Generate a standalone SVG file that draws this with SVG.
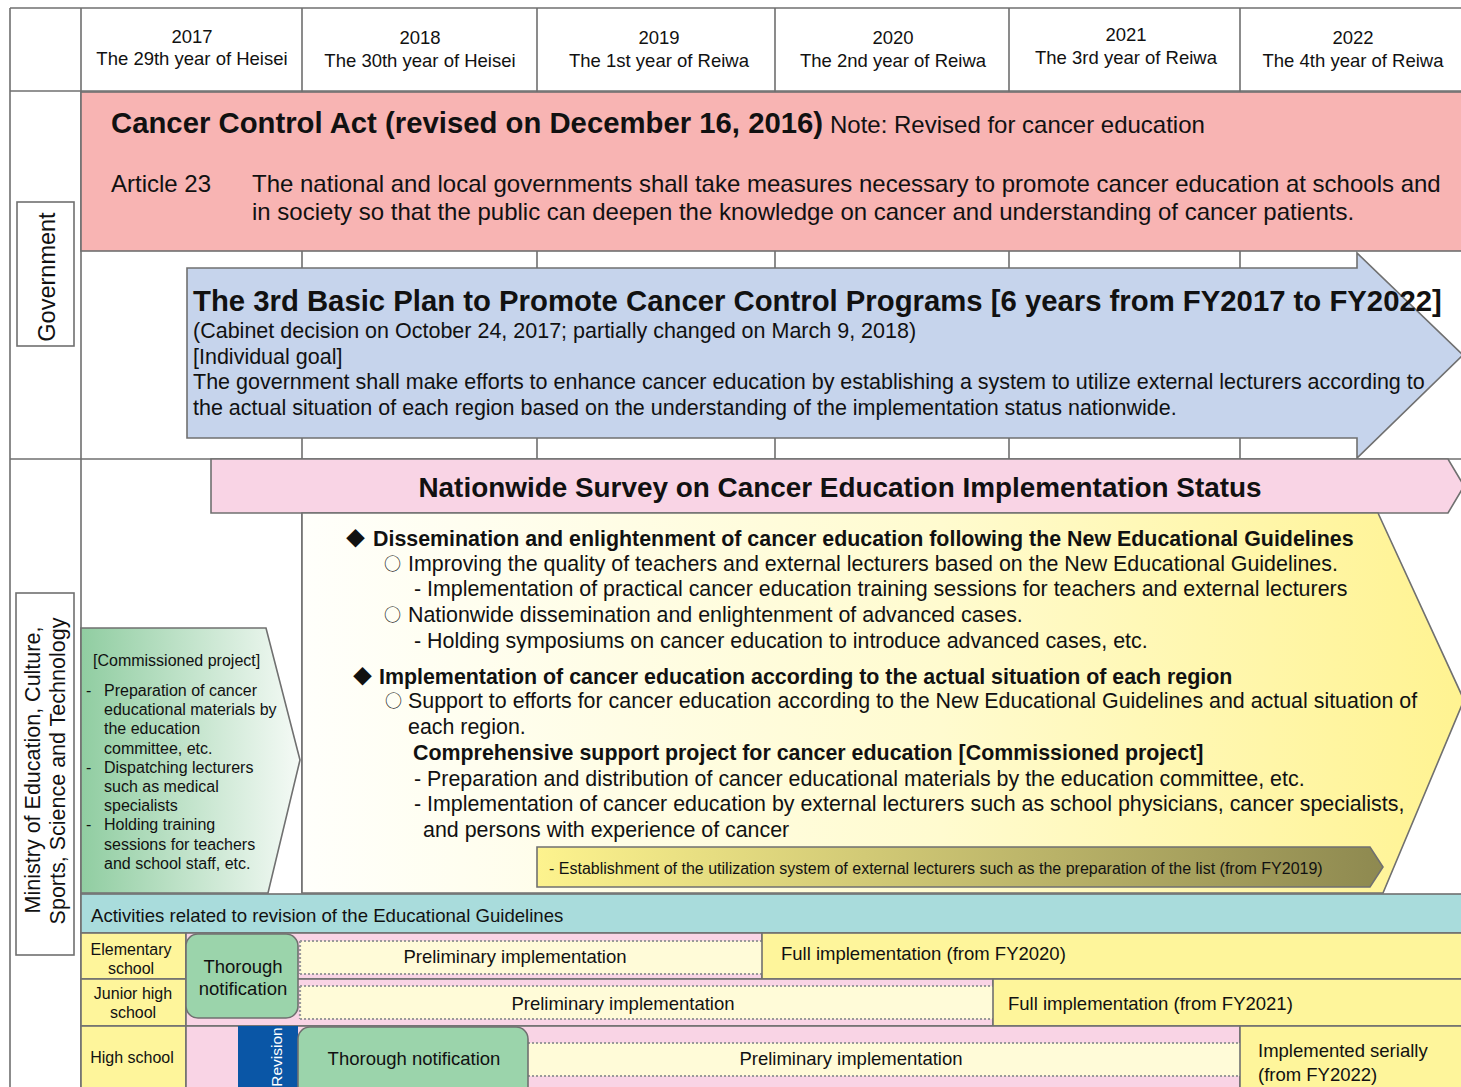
<svg xmlns="http://www.w3.org/2000/svg" width="1461" height="1087" viewBox="0 0 1461 1087">
<defs>
<style>
text{font-family:"Liberation Sans",Arial,sans-serif;fill:#111;}
.b{font-weight:bold;}
.grid{stroke:#6f6f6f;stroke-width:1.6;fill:none;}
.edge{stroke:#707070;stroke-width:1.6;}
.hd{font-size:18.5px;text-anchor:middle;}
.yl{font-size:21.4px;}
.sym{font-family:"Noto Sans CJK JP","DejaVu Sans",sans-serif;font-size:19px;}
.cir{font-family:"Noto Sans CJK JP","DejaVu Sans",sans-serif;font-size:17px;}
.gl{font-size:16px;}
.row{font-size:18.5px;}
.lbl{font-size:16px;text-anchor:middle;}
.dot{stroke:#9a9a9a;stroke-width:2.2;stroke-dasharray:2 2;fill:none;}
.dotf{fill:#fffbd8;}
</style>
<linearGradient id="gYel" x1="0" y1="0" x2="1" y2="0">
<stop offset="0" stop-color="#fffffb"/>
<stop offset="0.55" stop-color="#fffbcf"/>
<stop offset="1" stop-color="#fff391"/>
</linearGradient>
<linearGradient id="gGrn" x1="0" y1="0" x2="1" y2="0">
<stop offset="0" stop-color="#90cda1"/>
<stop offset="1" stop-color="#f5faf6"/>
</linearGradient>
<linearGradient id="gOl" x1="0" y1="0" x2="1" y2="0">
<stop offset="0" stop-color="#fdf38e"/>
<stop offset="1" stop-color="#8e8950"/>
</linearGradient>
</defs>
<rect x="0" y="0" width="1461" height="1087" fill="#fff"/>

<g id="grid" class="grid">
<line x1="10" y1="8" x2="1461" y2="8"/>
<line x1="10" y1="91" x2="1461" y2="91"/>
<line x1="10" y1="459" x2="1461" y2="459"/>
<line x1="10" y1="8" x2="10" y2="1087"/>
<line x1="81" y1="8" x2="81" y2="1087"/>
<line x1="302" y1="8" x2="302" y2="893"/>
<line x1="537" y1="8" x2="537" y2="893"/>
<line x1="775" y1="8" x2="775" y2="893"/>
<line x1="1009" y1="8" x2="1009" y2="893"/>
<line x1="1240" y1="8" x2="1240" y2="893"/>
</g>

<g id="header">
<text class="hd" x="192" y="43">2017</text><text class="hd" x="192" y="65">The 29th year of Heisei</text>
<text class="hd" x="420" y="44">2018</text><text class="hd" x="420" y="67">The 30th year of Heisei</text>
<text class="hd" x="659" y="44">2019</text><text class="hd" x="659" y="67">The 1st year of Reiwa</text>
<text class="hd" x="893" y="44">2020</text><text class="hd" x="893" y="67">The 2nd year of Reiwa</text>
<text class="hd" x="1126" y="41">2021</text><text class="hd" x="1126" y="64">The 3rd year of Reiwa</text>
<text class="hd" x="1353" y="44">2022</text><text class="hd" x="1353" y="67">The 4th year of Reiwa</text>
</g>

<g id="government-label">
<rect x="17" y="202" width="57" height="144" fill="#fff" class="edge"/>
<text transform="translate(55,277) rotate(-90)" text-anchor="middle" font-size="23.5">Government</text>
</g>

<g id="cancer-control-act">
<rect x="81" y="92" width="1390" height="159" fill="#f8b4b3" class="edge"/>
<text class="b" x="111" y="133" font-size="29.3">Cancer Control Act (revised on December 16, 2016)</text>
<text x="830" y="133" font-size="24">Note: Revised for cancer education</text>
<text x="111" y="192" font-size="24">Article 23</text>
<text x="252" y="192" font-size="24">The national and local governments shall take measures necessary to promote cancer education at schools and</text>
<text x="252" y="220" font-size="24">in society so that the public can deepen the knowledge on cancer and understanding of cancer patients.</text>
</g>

<g id="basic-plan">
<path d="M187,268 L1357,268 L1357,253 L1463,355 L1357,458 L1357,438 L187,438 Z" fill="#c6d4ec" class="edge"/>
<text class="b" x="193" y="311" font-size="29.3">The 3rd Basic Plan to Promote Cancer Control Programs [6 years from FY2017 to FY2022]</text>
<text x="193" y="338" font-size="21.5">(Cabinet decision on October 24, 2017; partially changed on March 9, 2018)</text>
<text x="193" y="364" font-size="21.5">[Individual goal]</text>
<text x="193" y="389" font-size="21.5">The government shall make efforts to enhance cancer education by establishing a system to utilize external lecturers according to</text>
<text x="193" y="415" font-size="21.5">the actual situation of each region based on the understanding of the implementation status nationwide.</text>
</g>

<g id="ministry-label">
<rect x="16" y="593" width="58" height="362" fill="#fff" class="edge"/>
<text transform="translate(40,770) rotate(-90)" text-anchor="middle" font-size="21.5">Ministry of Education, Culture,</text>
<text transform="translate(65,771) rotate(-90)" text-anchor="middle" font-size="21.5">Sports, Science and Technology</text>
</g>

<g id="nationwide-survey">
<path d="M211,459 L1448,459 L1464,486 L1448,513 L211,513 Z" fill="#f9d4e5" class="edge"/>
<text class="b" x="840" y="497" font-size="27.9" text-anchor="middle">Nationwide Survey on Cancer Education Implementation Status</text>
</g>

<g id="dissemination">
<path d="M302,513 L1378,513 L1464,700 L1383,893 L302,893 Z" fill="url(#gYel)" class="edge"/>
<text class="sym" x="346" y="546">◆</text>
<text class="yl b" x="373" y="546">Dissemination and enlightenment of cancer education following the New Educational Guidelines</text>
<text class="cir" x="384" y="570">○</text>
<text class="yl" x="408" y="571">Improving the quality of teachers and external lecturers based on the New Educational Guidelines.</text>
<text class="yl" x="414" y="596">- Implementation of practical cancer education training sessions for teachers and external lecturers</text>
<text class="cir" x="384" y="621">○</text>
<text class="yl" x="408" y="622">Nationwide dissemination and enlightenment of advanced cases.</text>
<text class="yl" x="414" y="648">- Holding symposiums on cancer education to introduce advanced cases, etc.</text>
<text class="sym" x="353" y="684">◆</text>
<text class="yl b" x="379" y="684">Implementation of cancer education according to the actual situation of each region</text>
<text class="cir" x="385" y="707">○</text>
<text class="yl" x="408" y="708">Support to efforts for cancer education according to the New Educational Guidelines and actual situation of</text>
<text class="yl" x="408" y="734">each region.</text>
<text class="yl b" x="413" y="760">Comprehensive support project for cancer education [Commissioned project]</text>
<text class="yl" x="414" y="786">- Preparation and distribution of cancer educational materials by the education committee, etc.</text>
<text class="yl" x="414" y="811">- Implementation of cancer education by external lecturers such as school physicians, cancer specialists,</text>
<text class="yl" x="423" y="837">and persons with experience of cancer</text>
</g>

<g id="external-lecturers">
<path d="M537,847 L1370,847 L1383,867 L1370,887 L537,887 Z" fill="url(#gOl)" class="edge"/>
<text x="549" y="874" font-size="16">- Establishment of the utilization system of external lecturers such as the preparation of the list (from FY2019)</text>
</g>

<g id="commissioned-project">
<path d="M81,628 L266,628 L300,760 L268,893 L81,893 Z" fill="url(#gGrn)" class="edge"/>
<text class="gl" x="93" y="666">[Commissioned project]</text>
<text class="gl" x="86" y="696">-</text>
<text class="gl" x="104" y="696">Preparation of cancer</text>
<text class="gl" x="104" y="715">educational materials by</text>
<text class="gl" x="104" y="734">the education</text>
<text class="gl" x="104" y="754">committee, etc.</text>
<text class="gl" x="86" y="773">-</text>
<text class="gl" x="104" y="773">Dispatching lecturers</text>
<text class="gl" x="104" y="792">such as medical</text>
<text class="gl" x="104" y="811">specialists</text>
<text class="gl" x="86" y="830">-</text>
<text class="gl" x="104" y="830">Holding training</text>
<text class="gl" x="104" y="850">sessions for teachers</text>
<text class="gl" x="104" y="869">and school staff, etc.</text>
</g>

<g id="guidelines-activities">
<rect x="81" y="894" width="1390" height="39" fill="#a9dcdc" class="edge"/>
<text x="91" y="922" font-size="18.6">Activities related to revision of the Educational Guidelines</text>
</g>

<g id="elementary-row">
<rect x="81" y="933" width="105" height="46" fill="#fef59b" class="edge"/>
<text class="lbl" x="131" y="955">Elementary</text>
<text class="lbl" x="131" y="974">school</text>
<rect x="186" y="933" width="576" height="46" fill="#f9d4e5" class="edge"/>
<rect x="300" y="941" width="462" height="33" class="dotf"/>
<path class="dot" d="M300,941 H762 M300,974 H762 M300,941 V974"/>
<text class="row" x="515" y="963" text-anchor="middle">Preliminary implementation</text>
<rect x="762" y="933" width="709" height="46" fill="#fef59b" class="edge"/>
<text class="row" x="781" y="960">Full implementation (from FY2020)</text>
</g>

<g id="junior-row">
<rect x="81" y="979" width="105" height="47" fill="#fef59b" class="edge"/>
<text class="lbl" x="133" y="999">Junior high</text>
<text class="lbl" x="133" y="1018">school</text>
<rect x="186" y="979" width="807" height="47" fill="#f9d4e5" class="edge"/>
<rect x="300" y="986" width="693" height="33" class="dotf"/>
<path class="dot" d="M300,986 H993 M300,1019 H993 M300,986 V1019"/>
<text class="row" x="623" y="1010" text-anchor="middle">Preliminary implementation</text>
<rect x="993" y="979" width="478" height="47" fill="#fef59b" class="edge"/>
<text class="row" x="1008" y="1010">Full implementation (from FY2021)</text>
</g>

<g id="high-row">
<rect x="81" y="1026" width="105" height="70" fill="#fef59b" class="edge"/>
<text class="lbl" x="132" y="1063">High school</text>
<rect x="186" y="1026" width="1054" height="70" fill="#f9d4e5" class="edge"/>
<rect x="238" y="1026" width="60" height="70" fill="#0a56a6"/>
<text transform="translate(282,1057) rotate(-90)" text-anchor="middle" font-size="15.5" style="fill:#fff">Revision</text>
<rect x="528" y="1043" width="712" height="33" class="dotf"/>
<path class="dot" d="M528,1043 H1240 M528,1076 H1240"/>
<text class="row" x="851" y="1065" text-anchor="middle">Preliminary implementation</text>
<rect x="298" y="1027" width="230" height="75" rx="12" fill="#9bd4ab" class="edge"/>
<text class="row" x="414" y="1065" text-anchor="middle">Thorough notification</text>
<rect x="1240" y="1026" width="231" height="70" fill="#fef59b" class="edge"/>
<text class="row" x="1258" y="1057">Implemented serially</text>
<text class="row" x="1258" y="1081">(from FY2022)</text>
</g>

<g id="thorough-notification">
<rect x="186" y="934" width="112" height="84" rx="12" fill="#9bd4ab" class="edge"/>
<text class="row" x="243" y="973" text-anchor="middle">Thorough</text>
<text class="row" x="243" y="995" text-anchor="middle">notification</text>
</g>

<g id="connectors"></g>
</svg>
